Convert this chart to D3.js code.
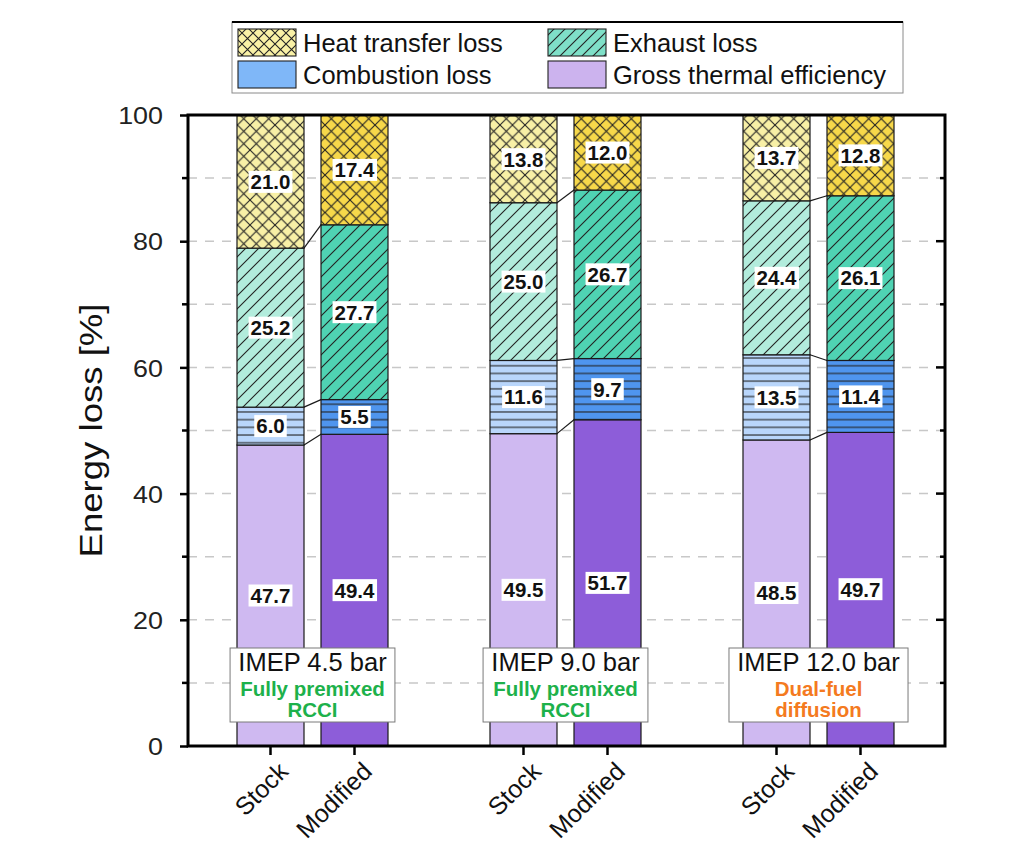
<!DOCTYPE html>
<html><head><meta charset="utf-8">
<script src="https://cdn.jsdelivr.net/npm/d3@7"></script>
<style>body{margin:0;background:#fff;} svg{display:block;font-family:"Liberation Sans",Arial,sans-serif;}</style>
</head><body>
<svg id="c" width="1011" height="863"></svg>
<script>
// ---------- data ----------
const groups = ["IMEP 4.5 bar", "IMEP 9.0 bar", "IMEP 12.0 bar"];
const groupModes = [["Fully premixed", "RCCI"], ["Fully premixed", "RCCI"], ["Dual-fuel", "diffusion"]];
const modeColors = ["#1db14b", "#1db14b", "#f47a20"];
const variants = ["Stock", "Modified"];
const seriesNames = ["Gross thermal efficiency", "Combustion loss", "Exhaust loss", "Heat transfer loss"];
// values per group: [Stock, Modified]
const gte       = [[47.7, 49.4], [49.5, 51.7], [48.5, 49.7]];
const combLoss  = [[6.0, 5.5],   [11.6, 9.7],  [13.5, 11.4]];
const exhLoss   = [[25.2, 27.7], [25.0, 26.7], [24.4, 26.1]];
const htLoss    = [[21.0, 17.4], [13.8, 12.0], [13.7, 12.8]];
const yTicks = [0, 20, 40, 60, 80, 100];
const yMinor = [10, 30, 50, 70, 90];

// ---------- styles ----------
const fills = {
  "Gross thermal efficiency": {Stock: "#cfb9f1", Modified: "#8d5dd9", legend: "#ccb3ee"},
  "Combustion loss": {Stock: "#b9d6fb", Modified: "#4f95ee", legend: "#7fb7f8"},
  "Exhaust loss": {Stock: "#b2ecdc", Modified: "#4fd3b3", legend: "#7fe0c8"},
  "Heat transfer loss": {Stock: "#f8f0a6", Modified: "#f7d84a", legend: "#f9f1a6"}
};
const hatch = {"Gross thermal efficiency": null, "Combustion loss": "h", "Exhaust loss": "d", "Heat transfer loss": "x"};

const svg = d3.select("#c");
const plot = {l: 188, r: 945, t: 115, b: 746};

const y = d3.scaleLinear().domain([0, 100]).range([plot.b, plot.t]);
const xg = d3.scaleBand().domain(groups).range([186, 945]).padding(0);
const xi = d3.scaleBand().domain(variants).range([-75.5, 75.5]).paddingInner(0.2024).paddingOuter(0);

// ---------- patterns ----------
const defs = svg.append("defs");
function makePattern(id, color, type, legend) {
  if (!type) return color;
  let s = type === "h" ? 7.7 : (type === "x" ? (legend ? 11 : 12.5) : (legend ? 11 : 13));
  const p = defs.append("pattern").attr("id", id).attr("patternUnits", "userSpaceOnUse")
    .attr("width", s).attr("height", s);
  p.append("rect").attr("width", s).attr("height", s).attr("fill", color);
  const st = "#222", sw = 1.1;
  if (type === "h") {
    p.append("line").attr("x1", 0).attr("x2", s).attr("y1", s / 2).attr("y2", s / 2).attr("stroke", st).attr("stroke-width", sw);
  } else if (type === "d") {
    p.append("path").attr("d", `M0,${s} L${s},0 M-1,1 L1,-1 M${s-1},${s+1} L${s+1},${s-1}`).attr("stroke", st).attr("stroke-width", sw);
  } else if (type === "x") {
    p.append("path").attr("d", `M0,0 L${s},${s} M0,${s} L${s},0`).attr("stroke", st).attr("stroke-width", sw);
  }
  return `url(#${id})`;
}
const fillOf = {};
seriesNames.forEach((sn, k) => {
  fillOf[sn] = {};
  ["Stock", "Modified"].forEach(v => { fillOf[sn][v] = makePattern(`p${k}${v}`, fills[sn][v], hatch[sn], false); });
  fillOf[sn].legend = makePattern(`p${k}L`, fills[sn].legend, hatch[sn] === "h" ? null : hatch[sn], true);
});
defs.append("clipPath").attr("id", "clipPlot").append("rect")
  .attr("x", plot.l).attr("y", plot.t).attr("width", plot.r - plot.l).attr("height", plot.b - plot.t);

// ---------- gridlines ----------
svg.append("g").selectAll("line").data(d3.range(10, 100, 10)).join("line")
  .attr("x1", plot.l).attr("x2", plot.r).attr("y1", d => y(d)).attr("y2", d => y(d))
  .attr("stroke", "#c8c8c8").attr("stroke-width", 1.5).attr("stroke-dasharray", "9,8");

// ---------- bars ----------
const seriesData = [gte, combLoss, exhLoss, htLoss];
const bars = [];
groups.forEach((g, gi) => {
  variants.forEach((v, vi) => {
    let acc = 0;
    seriesNames.forEach((sn, si) => {
      const val = seriesData[si][gi][vi];
      bars.push({g, gi, v, vi, sn, si, y0: acc, y1: acc + val, val});
      acc += val;
    });
  });
});
const barG = svg.append("g").attr("clip-path", "url(#clipPlot)");
const bx = d => xg(d.g) + xg.bandwidth() / 2 + xi(d.v);
barG.selectAll("rect").data(bars).join("rect")
  .attr("x", bx).attr("width", xi.bandwidth())
  .attr("y", d => y(Math.min(d.y1, 100))).attr("height", d => y(d.y0) - y(Math.min(d.y1, 100)))
  .attr("fill", d => fillOf[d.sn][d.v])
  .attr("stroke", "#1a1a1a").attr("stroke-width", 1.2);

// connectors
const conns = [];
groups.forEach((g, gi) => {
  for (let si = 0; si < 3; si++) {
    const s = bars.find(b => b.gi === gi && b.vi === 0 && b.si === si);
    const m = bars.find(b => b.gi === gi && b.vi === 1 && b.si === si);
    conns.push({x1: bx(s) + xi.bandwidth(), y1: y(s.y1), x2: bx(m), y2: y(m.y1)});
  }
});
svg.append("g").selectAll("line").data(conns).join("line")
  .attr("x1", d => d.x1).attr("y1", d => d.y1).attr("x2", d => d.x2).attr("y2", d => d.y2)
  .attr("stroke", "#1a1a1a").attr("stroke-width", 1.2);

// value labels
const lab = svg.append("g");
bars.forEach(d => {
  const cx = bx(d) + xi.bandwidth() / 2;
  const cy = y((d.y0 + Math.min(d.y1, 100)) / 2);
  const t = lab.append("text").attr("x", cx).attr("y", cy).attr("dy", "0.36em")
    .attr("text-anchor", "middle").attr("font-size", 20.5).attr("font-weight", "bold").attr("fill", "#111")
    .text(d.val.toFixed(1));
  const bb = t.node().getBBox();
  lab.insert("rect", () => t.node()).attr("x", bb.x - 2).attr("y", cy - 11).attr("width", bb.width + 4).attr("height", 22).attr("fill", "#fff");
});

// annotation boxes
groups.forEach((g, gi) => {
  const cx = xg(g) + xg.bandwidth() / 2;
  const ag = svg.append("g");
  const t1 = ag.append("text").attr("x", cx).attr("y", 671).attr("text-anchor", "middle")
    .attr("font-size", 25.5).attr("fill", "#111").text(g);
  const t2 = ag.append("text").attr("x", cx).attr("y", 695.5).attr("text-anchor", "middle")
    .attr("font-size", 20.5).attr("font-weight", "bold").attr("fill", modeColors[gi]);
  t2.append("tspan").attr("x", cx).attr("dy", 0).text(groupModes[gi][0]);
  t2.append("tspan").attr("x", cx).attr("dy", 21).text(groupModes[gi][1]);
  const w = Math.max(t1.node().getBBox().width, t2.node().getBBox().width) + 16;
  ag.insert("rect", "text").attr("x", cx - w / 2).attr("y", 648).attr("width", w).attr("height", 74)
    .attr("fill", "#fff").attr("stroke", "#7a7a7a").attr("stroke-width", 1);
});

// ---------- axes ----------
const ax = svg.append("g");
ax.append("rect").attr("x", plot.l).attr("y", plot.t).attr("width", plot.r - plot.l).attr("height", plot.b - plot.t)
  .attr("fill", "none").attr("stroke", "#000").attr("stroke-width", 3);
const leftAxis = d3.axisLeft(y).tickValues(yTicks).tickSize(8).tickPadding(0).tickFormat(d3.format("d"));
const la = ax.append("g").attr("transform", `translate(${plot.l},0)`).call(leftAxis);
la.select(".domain").remove();
la.selectAll(".tick line").attr("stroke", "#000").attr("stroke-width", 2.5);
la.selectAll(".tick text").attr("font-size", 24).attr("fill", "#222").attr("font-family", "'Liberation Sans',Arial,sans-serif")
  .attr("x", 0).attr("dy", "0.36em").attr("transform", "translate(-25,0) scale(1.12,1)");
ax.append("g").selectAll("line").data(yMinor).join("line")
  .attr("x1", plot.l - 6).attr("x2", plot.l).attr("y1", d => y(d)).attr("y2", d => y(d))
  .attr("stroke", "#000").attr("stroke-width", 2.5);
ax.append("g").selectAll("line").data(yTicks.slice(1, -1)).join("line")
  .attr("x1", plot.r - 9).attr("x2", plot.r).attr("y1", d => y(d)).attr("y2", d => y(d))
  .attr("stroke", "#000").attr("stroke-width", 2.5);
ax.append("g").selectAll("line").data(yMinor).join("line")
  .attr("x1", plot.r - 5).attr("x2", plot.r).attr("y1", d => y(d)).attr("y2", d => y(d))
  .attr("stroke", "#000").attr("stroke-width", 2.5);
const xticks = [];
groups.forEach(g => variants.forEach(v => xticks.push({g, v, x: xg(g) + xg.bandwidth() / 2 + xi(v) + xi.bandwidth() / 2})));
ax.append("g").selectAll("line").data(xticks).join("line")
  .attr("x1", d => d.x).attr("x2", d => d.x).attr("y1", plot.b).attr("y2", plot.b + 9)
  .attr("stroke", "#000").attr("stroke-width", 2.5);
ax.append("g").selectAll("text").data(xticks).join("text")
  .attr("transform", d => `translate(${d.x + 19},${plot.b + 27}) rotate(-45)`)
  .attr("text-anchor", "end").attr("font-size", 25).attr("fill", "#111").text(d => d.v);

// y label
svg.append("text").attr("transform", `translate(102,${(plot.t + plot.b) / 2}) rotate(-90) scale(1.18,1)`)
  .attr("text-anchor", "middle").attr("font-size", 31).attr("fill", "#111").text("Energy loss [%]");

// ---------- legend ----------
const lg = svg.append("g");
lg.append("rect").attr("x", 232).attr("y", 22).attr("width", 671).attr("height", 71)
  .attr("fill", "#fff").attr("stroke", "#8a8a8a").attr("stroke-width", 1);
lg.append("line").attr("x1", 232).attr("x2", 903).attr("y1", 22).attr("y2", 22).attr("stroke", "#000").attr("stroke-width", 2);
const legendItems = [
  {sn: "Heat transfer loss", col: 0, row: 0},
  {sn: "Exhaust loss", col: 1, row: 0},
  {sn: "Combustion loss", col: 0, row: 1},
  {sn: "Gross thermal efficiency", col: 1, row: 1}
];
const legCols = [238, 548], legRows = [29, 61];
legendItems.forEach(it => {
  const x0 = legCols[it.col], y0 = legRows[it.row];
  lg.append("rect").attr("x", x0).attr("y", y0).attr("width", 58).attr("height", 27)
    .attr("fill", fillOf[it.sn].legend).attr("stroke", "#222").attr("stroke-width", 1.1);
  lg.append("text").attr("x", x0 + 65).attr("y", y0 + 13.5).attr("dy", "0.36em")
    .attr("font-size", 25.5).attr("fill", "#111").text(it.sn);
});
</script>
</body></html>
